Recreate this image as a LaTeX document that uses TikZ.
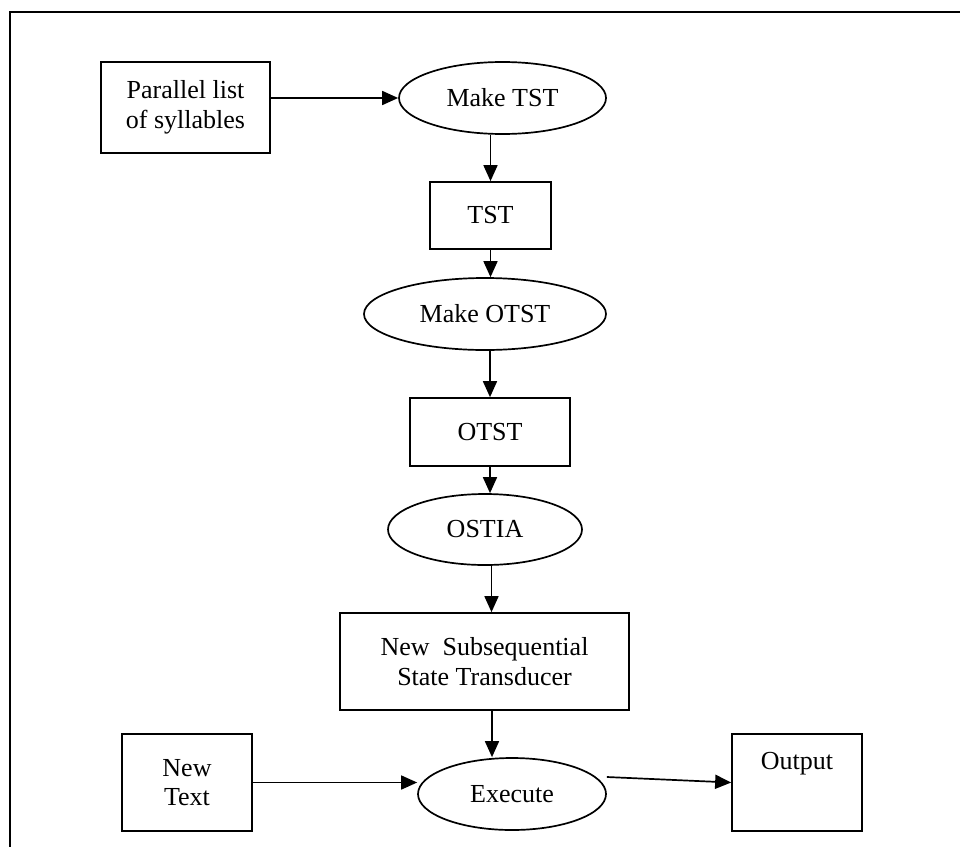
\documentclass[tikz,border=0pt]{standalone}
\usepackage{fontspec}
\setmainfont{Liberation Serif}
\usetikzlibrary{shapes.geometric,arrows.meta,calc}
\begin{document}
\begin{tikzpicture}[x=1pt,y=-1pt,
  every node/.style={font=\fontsize{26}{29.5}\selectfont, align=center, line width=1.7pt, inner sep=0pt},
  boxnode/.style={draw, rectangle},
  ovalnode/.style={draw, ellipse},
  arr/.style={line width=1.7pt, -{Triangle[length=16pt,width=14pt]}},
  frameline/.style={line width=1.8pt}]
\useasboundingbox (0,0) rectangle (960,846);
\draw[frameline] (961,12) -- (10,12) -- (10,847);

\node[boxnode, minimum width=169, minimum height=91] (par) at (185.5,107.5) {Parallel list\\of syllables};
\node[ovalnode, minimum width=207, minimum height=72] (mtst) at (502.5,98) {Make TST};
\node[boxnode, minimum width=121, minimum height=67] (tst) at (490.5,215.5) {TST};
\node[ovalnode, minimum width=242, minimum height=72] (motst) at (485,314) {Make OTST};
\node[boxnode, minimum width=160, minimum height=68] (otst) at (490,432) {OTST};
\node[ovalnode, minimum width=194, minimum height=71] (ostia) at (485,529.5) {OSTIA};
\node[boxnode, minimum width=289, minimum height=97] (nsst) at (484.5,661.5) {New\ \ Subsequential\\State Transducer};
\node[ovalnode, minimum width=188, minimum height=72] (exe) at (512,794) {Execute};
\node[boxnode, minimum width=130, minimum height=97] (ntext) at (187,782.5) {New\\Text};
\node[boxnode, minimum width=130, minimum height=97] (out) at (797,782.5) {};
\node (outlbl) at ([yshift=-30pt]out.north) {Output};

\draw[arr] (par.east |- mtst.west) -- (mtst.west);
\draw[arr] (mtst.south -| tst.north) -- (tst.north);
\draw[arr] (tst.south) -- (tst.south |- motst.north);
\draw[arr] (motst.south -| otst.north) -- (otst.north);
\draw[arr] (otst.south) -- (otst.south |- ostia.north);
\draw[arr] ([xshift=6.5pt]ostia.south) -- ([xshift=6.5pt]ostia.south |- nsst.north);
\draw[arr] ([xshift=7.5pt]nsst.south) -- ([xshift=7.5pt]nsst.south |- exe.north);
\draw[arr] (ntext.east) -- (ntext.east -| exe.west);
\draw[arr] ([yshift=17pt]exe.east) -- (out.west);
\end{tikzpicture}
\end{document}
